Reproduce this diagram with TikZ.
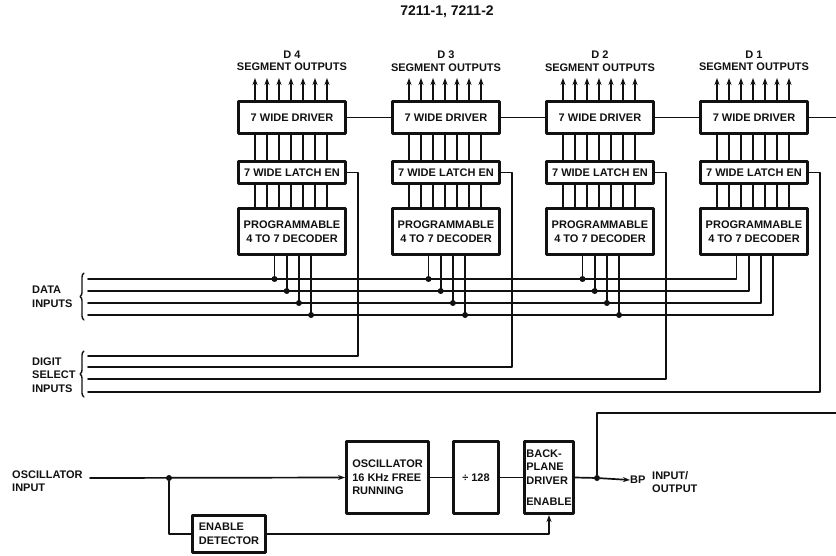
\documentclass[tikz,border=0pt]{standalone}
\usepackage{fontspec}
\setmainfont{Liberation Sans}
\usepackage{tikz}
\usetikzlibrary{arrows.meta,positioning,calc,decorations.pathreplacing}
\definecolor{ink}{HTML}{111111}
\newcommand{\diagfont}{\bfseries\fontsize{11}{13.5}\selectfont}
\tikzset{
    every picture/.style={line cap=round,line join=round},
    blockbox/.style={draw=ink,line width=3pt,inner sep=2pt,
      text=ink,font=\diagfont,align=center},
    drvbox/.style={blockbox,minimum width=107pt,minimum height=32pt},
    latbox/.style={blockbox,minimum width=107pt,minimum height=22pt},
    decbox/.style={blockbox,minimum width=107pt,minimum height=46pt},
    tallbox/.style={blockbox,minimum height=72pt,align=left},
    wire/.style={draw=ink,line width=1.7pt},
    sigarrow/.style={wire,-{Stealth[length=7pt,width=5pt]}},
    junction/.style={circle,fill=ink,inner sep=0pt,minimum size=6pt},
    lbl/.style={text=ink,font=\diagfont,align=left,inner sep=0pt},
    busbrace/.style={draw=ink,line width=1.4pt,decorate,
      decoration={brace,amplitude=4pt}}
}

\begin{document}
\begin{tikzpicture}[x=1pt,y=-1pt]
  \useasboundingbox (0,0) rectangle (836,555);
  \node[lbl,font=\bfseries\fontsize{14}{16}\selectfont] (title) at (447,12) {7211-1, 7211-2};

  % ends of the data and digit select buses
  \foreach \k/\yy in {1/279,2/291,3/303,4/315}
    \coordinate (din\k) at (88,\yy);
  \foreach \k/\yy in {1/356,2/367,3/379,4/392}
    \coordinate (dsel\k) at (88,\yy);

  % one column per digit
  \foreach \d/\cx [count=\i] in {4/292,3/446,2/600,1/754}{
    \node[drvbox] (drv\i) at (\cx,117.5) {7 WIDE DRIVER};
    \node[latbox] (lat\i) at (\cx,172.5) {7 WIDE LATCH EN};
    \node[decbox] (dec\i) at (\cx,231.5) {PROGRAMMABLE\\4 TO 7 DECODER};
    \node[lbl,align=center,font=\bfseries\fontsize{11}{12.5}\selectfont] (seg\i) at (\cx,61) {D \d\\SEGMENT OUTPUTS};
    \foreach \k [evaluate=\k as \o using -37+12*\k] in {0,...,6}{
      \draw[sigarrow] ([xshift=\o pt]drv\i.north) -- ++(0,-22);
      \draw[wire] ([xshift=\o pt]drv\i.south) -- ([xshift=\o pt]lat\i.north);
      \draw[wire] ([xshift=\o pt]lat\i.south) -- ([xshift=\o pt]dec\i.north);}
    \draw[wire] (lat\i.east) -- ++(11,0) |- (dsel\i);
  }

  % driver chain to the backplane line
  \coordinate (bpbus) at (836,117.5);
  \foreach \i [count=\j from 2] in {1,2,3}
    \draw[wire] (drv\i.east) -- (drv\j.west);
  \draw[wire] (drv4.east) -- (bpbus);

  % decoder inputs: D1 runs into the bus, the others tap it
  \foreach \k [evaluate=\k as \o using -17.5+12.2*(\k-1)] in {1,...,4}{
    \draw[wire] ([xshift=\o pt]dec4.south) |- (din\k);
    \foreach \i in {1,2,3}
      \draw[wire] ([xshift=\o pt]dec\i.south) -- ([xshift=\o pt]dec\i.south |- din\k) node[junction] (tap\i\k) {};
  }

  \draw[busbrace] (84,320) -- (84,273);
  \draw[busbrace] (84,397) -- (84,351);
  \node[lbl,anchor=west] (datalbl) at (32,297) {DATA\\INPUTS};
  \node[lbl,anchor=west] (digitlbl) at (32,375) {DIGIT\\SELECT\\INPUTS};

  % oscillator and backplane
  \node[tallbox,minimum width=82pt] (osc) at (387.5,477.5) {OSCILLATOR\\16 KHz FREE\\RUNNING};
  \node[tallbox,minimum width=45pt,align=center] (div) at (476,477.5) {÷ 128};
  \node[tallbox,minimum width=49pt] (bpd) at (549,477.5) {BACK-\\PLANE\\DRIVER\\[8pt]ENABLE};
  \node[blockbox,align=left,minimum width=73pt,minimum height=37pt] (endet) at (229,534) {ENABLE\\DETECTOR};
  \node[lbl,anchor=west] (oscin) at (12,481) {OSCILLATOR\\INPUT};
  \coordinate (oscsrc) at (90,478);
  \node[junction] (split) at (169,478) {};
  \draw[sigarrow] (oscsrc) -- (osc.west);
  \draw[wire] (split) |- (endet.west);
  \draw[wire] (osc.east) -- (div.west);
  \draw[wire] (div.east) -- (bpd.west);
  \draw[sigarrow] (endet.east) -| (bpd.south);
  \node[junction] (bpj) at (597,478) {};
  \node[lbl,anchor=west] (bp) at (630,480) {BP};
  \node[lbl,anchor=west] (bpio) at (652,482) {INPUT/\\OUTPUT};
  \draw[wire] (bpd.east) -- (bpj);
  \draw[sigarrow] (bpj) -- (bp.west);
  \coordinate (bpret) at (836,413);
  \draw[wire] (bpj) |- (bpret);
\end{tikzpicture}
\end{document}
